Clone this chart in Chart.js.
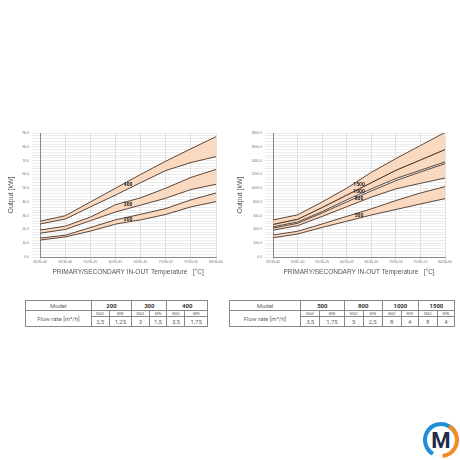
<!DOCTYPE html>
<html><head><meta charset="utf-8">
<script src="https://cdn.jsdelivr.net/npm/chart.js@4"></script>
<style>
body{margin:0;width:460px;height:460px;background:#fff;font-family:Roboto,sans-serif;position:relative;overflow:hidden}
.box{position:absolute}
table{border-collapse:collapse;font-size:6px;color:#666;position:absolute}
td{border:1px solid #888;text-align:center;padding:0 2px;height:9px}
td.b{font-weight:bold;color:#333}
td.s{font-size:3.5px;height:5px}
</style></head><body>
<div class="box" style="left:3px;top:128px;width:225px;height:148px"><canvas id="c1"></canvas></div>
<div class="box" style="left:232px;top:128px;width:225px;height:148px"><canvas id="c2"></canvas></div>
<table style="left:25px;top:300px;width:183px" id="t1"></table>
<table style="left:229px;top:300px;width:226px" id="t2"></table>
<svg class="box" style="left:421px;top:420px" width="40" height="40" viewBox="0 0 40 40">
<circle cx="20" cy="20" r="16" fill="none" stroke="#1f8fd6" stroke-width="4" stroke-dasharray="60 41" transform="rotate(120 20 20)"/>
<circle cx="20" cy="20" r="16" fill="none" stroke="#f08a24" stroke-width="4" stroke-dasharray="40 61" transform="rotate(-60 20 20)"/>
<text x="20" y="28" text-anchor="middle" font-family="Roboto" font-weight="bold" font-size="22" fill="#1c2b4a">M</text>
</svg>
<script>
const temps=['45/30-40','50/30-40','55/30-45','60/30-45','65/30-50','70/30-50','75/30-55','80/30-60'];
// left chart bands [top, bottom]
const m400=[[26,30,40,50,60,69.6,78.6,87.4],[24,27.6,36.4,45,54,62.8,68.6,72.9]];
const m300=[[19.6,22.4,29,38,43,50,57.8,63.6],[17.3,20,26.4,32.7,37.7,42.7,49,52.8]];
const m200=[[13.8,15.8,21.4,27,31,35.2,41.5,46.5],[12.3,14.6,18.8,23.9,27,30.9,36.4,40.2]];
// right chart bands
const m1500=[[538,613,800,1000,1230,1430,1620,1810],[474,548,720,900,1080,1260,1410,1561]];
const m1000=[[474,548,720,900,1080,1260,1410,1561],[439,509,660,830,990,1140,1260,1381]];
const m800=[[420,490,640,800,960,1110,1235,1356],[390,455,590,730,870,990,1070,1147]];
const m500=[[320,374,480,590,700,820,930,1022],[280,334,430,520,610,690,770,848]];
const flow1=[['200','2,5','1,25'],['300','3','1,5'],['400','3,5','1,75']];
const flow2=[['500','3,5','1,75'],['800','5','2,5'],['1000','8','4'],['1500','8','4']];

const FILL='rgba(249,212,182,0.85)', LINE='#4a3328';
function bands(list){
  const ds=[];
  list.forEach(([name,b])=>{
    ds.push({label:name,data:b[0],borderColor:LINE,borderWidth:0.9,pointRadius:0,fill:false,tension:0});
    ds.push({label:name,data:b[1],borderColor:LINE,borderWidth:0.9,pointRadius:0,fill:'-1',backgroundColor:FILL,tension:0});
  });
  return ds;
}
const bandLabels={id:'bandLabels',afterDatasetsDraw(ch){
  const {ctx,scales:{x,y}}=ch;ctx.save();ctx.font='bold 5px Roboto';ctx.fillStyle='#222';ctx.textAlign='center';ctx.textBaseline='middle';
  for(let i=0;i<ch.data.datasets.length;i+=2){
    const a=ch.data.datasets[i].data,b=ch.data.datasets[i+1].data;
    const v=(a[3]+a[4]+b[3]+b[4])/4;
    ctx.fillText(ch.data.datasets[i].label,x.getPixelForValue(3.5),y.getPixelForValue(v));
  }ctx.restore();}};
function make(id,list,max,step,major){
  new Chart(document.getElementById(id),{type:'line',data:{labels:temps,datasets:bands(list)},plugins:[bandLabels],
  options:{responsive:true,maintainAspectRatio:false,animation:false,plugins:{legend:{display:false},tooltip:{enabled:false}},
  layout:{padding:{right:12,top:3}},
  scales:{x:{offset:false,grid:{color:'#ccc',lineWidth:0.6,tickLength:3},border:{color:'#888'},ticks:{font:{size:3.5},color:'#777',maxRotation:0,autoSkip:false,padding:0},
    title:{display:true,text:'PRIMARY/SECONDARY IN-OUT Temperature   [°C]',font:{size:6.5},color:'#555',padding:{top:4,bottom:0}}},
   y:{min:0,max:max,ticks:{stepSize:step,font:{size:3.5},color:'#777',autoSkip:false,callback:v=>v%major===0?v.toFixed(1):''},
    grid:{color:'#d8d8d8',lineWidth:0.5},border:{color:'#888'},
    title:{display:true,text:'Output [kW]',font:{size:7},color:'#555'}}}}});
}
make('c1',[['400',m400],['300',m300],['200',m200]],90,2,10);
make('c2',[['1500',m1500],['1000',m1000],['800',m800],['500',m500]],1800,40,200);
function table(id,rows){
  let h='<tr><td>Model</td>'+rows.map(r=>`<td colspan="2" class="b">${r[0]}</td>`).join('')+'</tr>';
  h+='<tr><td rowspan="2">Flow rate [m³/h]</td>'+rows.map(()=>'<td class="s">MAX</td><td class="s">MIN</td>').join('')+'</tr>';
  h+='<tr>'+rows.map(r=>`<td>${r[1]}</td><td>${r[2]}</td>`).join('')+'</tr>';
  document.getElementById(id).innerHTML=h;
}
table('t1',flow1);table('t2',flow2);
</script></body></html>
